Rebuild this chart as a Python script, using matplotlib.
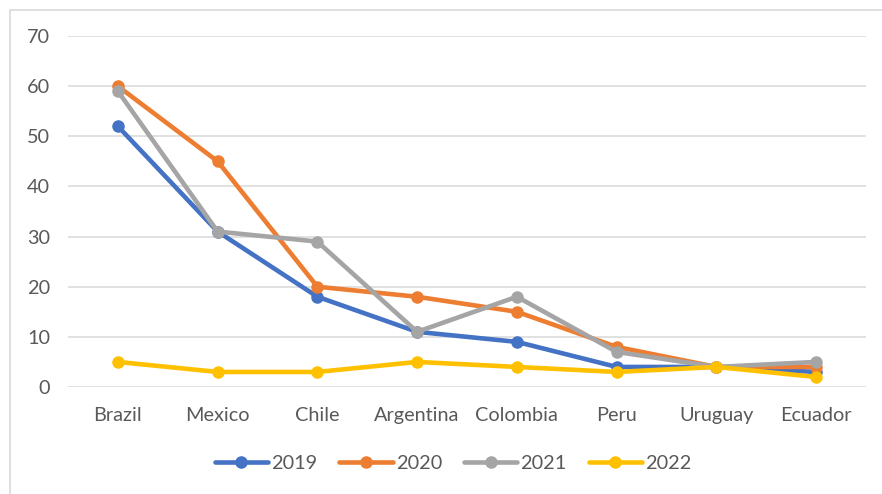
import matplotlib
matplotlib.use("Agg")
import matplotlib.pyplot as plt
from matplotlib.patches import Rectangle

categories = ["Brazil", "Mexico", "Chile", "Argentina", "Colombia", "Peru", "Uruguay", "Ecuador"]
s2019 = [52, 31, 18, 11, 9, 4, 4, 3]
s2020 = [60, 45, 20, 18, 15, 8, 4, 4]
s2021 = [59, 31, 29, 11, 18, 7, 4, 5]
s2022 = [5, 3, 3, 5, 4, 3, 4, 2]
series_names = ["2019", "2020", "2021", "2022"]
colors = ["#4472C4", "#ED7D31", "#A5A5A5", "#FFC000"]
yticks = [0, 10, 20, 30, 40, 50, 60, 70]

plt.rcParams['font.family'] = ['Lato', 'DejaVu Sans']

W, H = 882, 494
fig = plt.figure(figsize=(W / 100, H / 100), dpi=100)
fig.patches.append(Rectangle((10 / W, -0.1), 1.2, (H - 10) / H + 0.1, transform=fig.transFigure,
                             fill=False, edgecolor="#D9D9D9", linewidth=1.2))

ax = fig.add_axes([68 / W, 1 - 387 / H, (866 - 68) / W, (387 - 36) / H])
x = list(range(len(categories)))
for name, vals, c in zip(series_names, [s2019, s2020, s2021, s2022], colors):
    ax.plot(x, vals, color=c, linewidth=3.3, marker="o", markersize=8, label=name,
            solid_capstyle="round", solid_joinstyle="round")

ax.set_xlim(-0.5, len(categories) - 0.5)
ax.set_ylim(0, 70)
ax.set_yticks(yticks)
ax.set_xticks(x)
ax.set_xticklabels(categories)
ax.grid(axis="y", color="#D9D9D9", linewidth=1.1)
ax.set_axisbelow(True)
for sp in ax.spines.values():
    sp.set_visible(False)
ax.tick_params(axis="both", length=0, labelsize=14.3, labelcolor="#595959")
ax.tick_params(axis="y", pad=13)
ax.tick_params(axis="x", pad=14.5)

fig.legend(loc="center", bbox_to_anchor=(453 / W, 1 - 463 / H), ncol=4, frameon=False,
           fontsize=14.3, labelcolor="#595959", handlelength=2.7, columnspacing=1.1, handletextpad=0.15)

fig.savefig("out.png", dpi=100)
